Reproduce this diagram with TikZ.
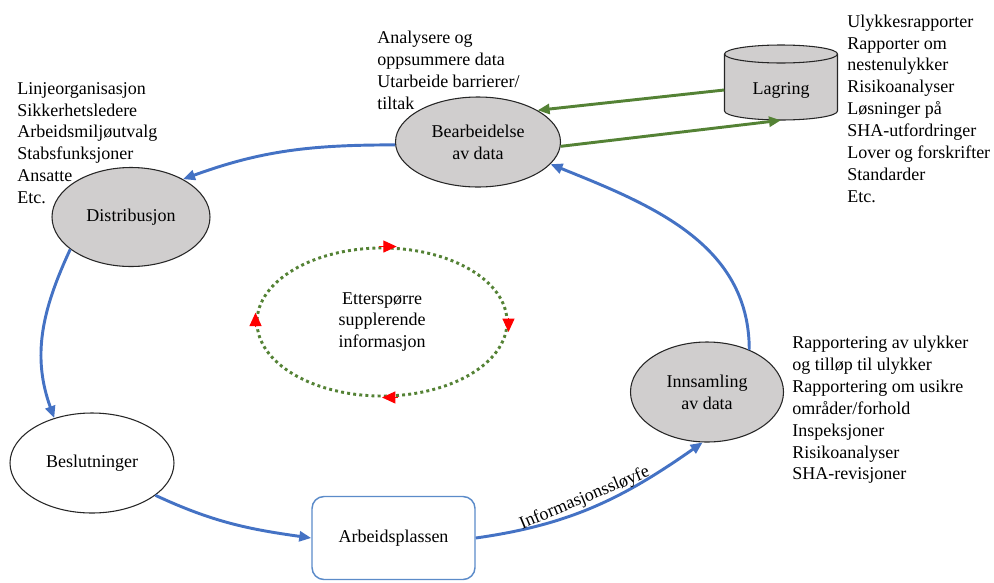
\documentclass[tikz,border=0pt]{standalone}
\usepackage{fontspec}
\setmainfont{Liberation Serif}
\usetikzlibrary{shapes,arrows.meta,calc,positioning}
\definecolor{flowblue}{HTML}{4472C4}
\definecolor{storegreen}{HTML}{548235}
\definecolor{nodegray}{HTML}{D0CECE}
\definecolor{boxblue}{HTML}{5B8BC9}

\begin{document}
\begin{tikzpicture}[x=0.75pt, y=0.75pt, text=black,
	font=\fontsize{13.5}{16.4}\selectfont,
	phase/.style={ellipse, draw=black!85, line width=0.8pt, fill=nodegray, inner sep=0pt, align=center},
	flow/.style={draw=flowblue, line width=2.2pt, -{Triangle[length=9pt,width=7.5pt]}},
	store/.style={draw=storegreen, line width=2.2pt, -{Triangle[length=9pt,width=7.5pt]}},
	redtip/.style={draw=red, line width=0.8pt, -{Triangle[length=10pt,width=9pt]}},
	listtext/.style={anchor=north west, align=left, inner sep=0pt}]

	\useasboundingbox (0,0) rectangle (994,-582);

	% storage cylinder
	\filldraw[fill=nodegray, draw=black!85, line width=0.8pt] (724.5,-54) -- (724.5,-111)
		arc[start angle=180, end angle=360, x radius=56.5, y radius=9] -- (837.5,-54)
		arc[start angle=0, end angle=180, x radius=56.5, y radius=9] -- cycle;
	\draw[black!85, line width=0.8pt] (724.5,-54) arc[start angle=180, end angle=360, x radius=56.5, y radius=9];

	% phases
	\node (bearb) [phase, minimum width=123.75pt, minimum height=67.5pt] at (478,-142) {Bearbeidelse\\av data};
	\node (lagring) [inner sep=0pt, minimum width=84.75pt, minimum height=45pt] at (781,-90) {Lagring};
	\node (distr) [phase, minimum width=118.5pt, minimum height=74.25pt] at (131,-217) {Distribusjon};
	\node (beslut) [phase, fill=white, minimum width=123pt, minimum height=75pt] at (92,-463) {Beslutninger};
	\node (arbeid) [draw=boxblue, line width=1.1pt, rounded corners=9pt, minimum width=122.25pt, minimum height=62.25pt] at (393.5,-538) {Arbeidsplassen};
	\node (innsam) [phase, minimum width=114.75pt, minimum height=75pt] at (707,-392) {Innsamling\\av data};

	% inner loop
	\node (etter) [ellipse, draw=storegreen, line width=2.2pt, dash pattern=on 2.2pt off 2.4pt, minimum width=187.5pt, minimum height=111pt, align=center] at (382,-322) {Etterspørre\\supplerende\\informasjon};
	\draw[redtip] ([xshift=-2pt]etter.north) -- ([xshift=11pt]etter.north);
	\draw[redtip] ([yshift=3pt]etter.east) -- ([yshift=-7.5pt]etter.east);
	\draw[redtip] ([xshift=12pt]etter.south) -- (etter.south);
	\draw[redtip] ([yshift=-4pt]etter.west) -- ([yshift=7pt]etter.west);

	% connections
	\draw[flow] (bearb.182) to[out=180, in=20] (distr.36);
	\draw[flow] (distr.208) to[out=245, in=110] (beslut.130);
	\draw[flow] (beslut.-27) to[out=-25, in=172] (arbeid.west);
	\draw[flow] (arbeid.east) to[out=8, in=215] node[sloped, above, pos=0.47, inner sep=1pt] {Informasjonssløyfe} (innsam.-95);
	\draw[flow] (innsam.45) to[out=90, in=-22] (bearb.-17);
	\draw[store] (lagring.west) -- (bearb.28);
	\draw[store] (bearb.-3) -- (lagring.south);

	% lists
	\node (analyse) [listtext] at (377,-31) {Analysere og\\oppsummere data\\Utarbeide barrierer/\\tiltak};
	\node (mottak) [listtext] at (17,-82) {Linjeorganisasjon\\Sikkerhetsledere\\Arbeidsmiljøutvalg\\Stabsfunksjoner\\Ansatte\\Etc.};
	\node (arkiv) [listtext] at (847,-14.5) {Ulykkesrapporter\\Rapporter om\\nestenulykker\\Risikoanalyser\\Løsninger på\\SHA-utfordringer\\Lover og forskrifter\\Standarder\\Etc.};
	\node (kilder) [listtext] at (792,-336) {Rapportering av ulykker\\og tilløp til ulykker\\Rapportering om usikre\\områder/forhold\\Inspeksjoner\\Risikoanalyser\\SHA-revisjoner};
\end{tikzpicture}
\end{document}
